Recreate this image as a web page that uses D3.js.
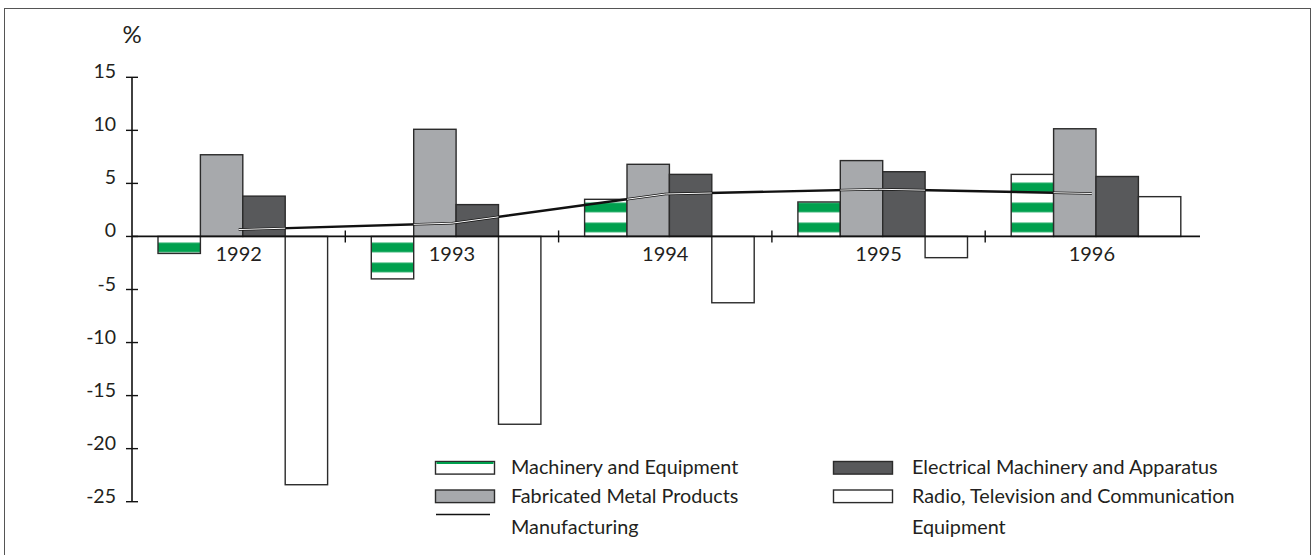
<!DOCTYPE html>
<html>
<head>
<meta charset="utf-8">
<script src="https://cdn.jsdelivr.net/npm/d3@7"></script>
<style>
  body { margin: 0; background: #fff; }
  text { font-family: Lato, "Open Sans", sans-serif; fill: #231f20; }
</style>
</head>
<body>
<script>
// data
const years = ["1992", "1993", "1994", "1995", "1996"];
const seriesNames = ["Machinery and Equipment", "Fabricated Metal Products",
                     "Electrical Machinery and Apparatus", "Radio, Television and Communication Equipment"];
const machinery  = [-1.6, -4.0, 3.5, 3.25, 5.85];
const fabricated = [7.7, 10.1, 6.8, 7.15, 10.15];
const electrical = [3.8, 3.0, 5.85, 6.1, 5.65];
const radio      = [-23.4, -17.7, -6.25, -2.0, 3.75];
const manufacturing = [0.65, 1.25, 4.0, 4.45, 4.05];
const yTicks = [15, 10, 5, 0, -5, -10, -15, -20, -25];

const width = 1313, height = 555;
const green = "#00a04e", fabGrey = "#a7a9ac", elecGrey = "#58595b", edge = "#2b2b2b";

const svg = d3.select("body").append("svg")
              .attr("width", width)
              .attr("height", height);

// frame
svg.append("rect")
   .attr("x", 4.5).attr("y", 8.5)
   .attr("width", 1306).attr("height", 600)
   .attr("fill", "none").attr("stroke", "#555").attr("stroke-width", 1);

const y = d3.scaleLinear().domain([-25, 15]).range([501.7, 77.3]);
const x0 = d3.scaleBand().domain(years).range([132, 1198.5]);
const x1 = d3.scaleBand().domain(seriesNames).range([26, 195.6]);
const y0 = y(0);

// green / white stripes, anchored on the zero line
const defs = svg.append("defs");
const pat = defs.append("pattern")
                .attr("id", "stripes")
                .attr("patternUnits", "userSpaceOnUse")
                .attr("x", 0).attr("y", y0)
                .attr("width", 20).attr("height", 20);
pat.append("rect").attr("width", 20).attr("height", 20).attr("fill", "#fff");
pat.append("rect").attr("y", 6.2).attr("width", 20).attr("height", 9.6).attr("fill", green);

const table = years.map((yr, i) => ({
  year: yr,
  values: [machinery[i], fabricated[i], electrical[i], radio[i]]
}));
const fills = ["url(#stripes)", fabGrey, elecGrey, "#fff"];

const groups = svg.append("g").selectAll("g")
                  .data(table)
                  .enter().append("g")
                  .attr("transform", d => "translate(" + x0(d.year) + ",0)");

groups.selectAll("rect")
      .data(d => d.values.map((v, k) => ({ key: seriesNames[k], k: k, v: v, year: d.year })))
      .enter().append("rect")
      .attr("x", d => x1(d.key))
      .attr("y", d => Math.min(y(d.v), y0))
      .attr("width", x1.bandwidth())
      .attr("height", d => Math.abs(y(d.v) - y0))
      .attr("fill", d => fills[d.k])
      .attr("stroke", edge)
      .attr("stroke-width", 1.4);

// clip for the white core of the line where it crosses the grey bars
const clip = defs.append("clipPath").attr("id", "greyBars");
table.forEach(d => {
  [1, 2].forEach(k => {
    const v = d.values[k];
    clip.append("rect")
        .attr("x", x0(d.year) + x1(seriesNames[k]))
        .attr("y", Math.min(y(v), y0))
        .attr("width", x1.bandwidth())
        .attr("height", Math.abs(y(v) - y0));
  });
});

const line = d3.line()
               .x((d, i) => x0(years[i]) + x0.bandwidth() / 2)
               .y(d => y(d));

svg.append("path")
   .datum(manufacturing)
   .attr("d", line)
   .attr("fill", "none")
   .attr("stroke", "#111")
   .attr("stroke-width", 2.4);
svg.append("path")
   .datum(manufacturing)
   .attr("d", line)
   .attr("fill", "none")
   .attr("stroke", "#fff")
   .attr("stroke-width", 1)
   .attr("clip-path", "url(#greyBars)");

// y axis
const yAxis = svg.append("g");
yAxis.append("line")
     .attr("x1", 132).attr("x2", 132)
     .attr("y1", y(15)).attr("y2", y(-25))
     .attr("stroke", "#111").attr("stroke-width", 1.6);
yAxis.selectAll(".tick")
     .data(yTicks)
     .enter().append("line")
     .attr("x1", 126).attr("x2", 138)
     .attr("y1", d => y(d)).attr("y2", d => y(d))
     .attr("stroke", "#111").attr("stroke-width", 1.4);
yAxis.selectAll("text")
     .data(yTicks)
     .enter().append("text")
     .attr("x", 116)
     .attr("y", d => y(d) + 1)
     .attr("text-anchor", "end")
     .attr("font-size", 19.5)
     .text(d => d);
svg.append("text")
   .attr("x", 132).attr("y", 43)
   .attr("text-anchor", "middle")
   .attr("font-size", 24)
   .text("%");

// x axis (zero line)
svg.append("line")
   .attr("x1", 132).attr("x2", 1200)
   .attr("y1", y0).attr("y2", y0)
   .attr("stroke", "#111").attr("stroke-width", 1.8);
svg.selectAll(".xtick")
   .data(years.slice(1))
   .enter().append("line")
   .attr("x1", d => x0(d)).attr("x2", d => x0(d))
   .attr("y1", y0 - 6).attr("y2", y0 + 6)
   .attr("stroke", "#111").attr("stroke-width", 1.4);
svg.selectAll(".xlabel")
   .data(years)
   .enter().append("text")
   .attr("x", d => x0(d) + x0.bandwidth() / 2)
   .attr("y", 261)
   .attr("text-anchor", "middle")
   .attr("font-size", 20)
   .text(d => d);

// legend
const legend = svg.append("g").attr("font-size", 19.8);
const sw = 59, sh = 12.6;

function swatch(xp, yp, fill) {
  legend.append("rect")
        .attr("x", xp).attr("y", yp)
        .attr("width", sw).attr("height", sh)
        .attr("fill", fill).attr("stroke", edge).attr("stroke-width", 1.4);
}

swatch(435.5, 461.5, "#fff");
legend.append("line")
      .attr("x1", 436.5).attr("x2", 493.5)
      .attr("y1", 463).attr("y2", 463)
      .attr("stroke", green).attr("stroke-width", 2);
swatch(435.5, 490, fabGrey);
legend.append("line")
      .attr("x1", 436).attr("x2", 490)
      .attr("y1", 514.5).attr("y2", 514.5)
      .attr("stroke", "#111").attr("stroke-width", 1.4);
swatch(833.5, 461.5, elecGrey);
swatch(833.5, 490, "#fff");

const legendText = [
  { x: 511, y: 474, t: seriesNames[0] },
  { x: 511, y: 503, t: seriesNames[1] },
  { x: 511, y: 534, t: "Manufacturing" },
  { x: 912, y: 474, t: seriesNames[2] },
  { x: 912, y: 503, t: "Radio, Television and Communication" },
  { x: 912, y: 534, t: "Equipment" }
];
legend.selectAll("text")
      .data(legendText)
      .enter().append("text")
      .attr("x", d => d.x)
      .attr("y", d => d.y)
      .text(d => d.t);
</script>
</body>
</html>
